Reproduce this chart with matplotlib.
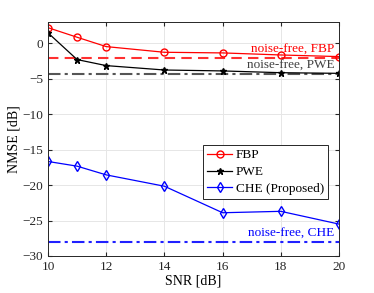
import matplotlib
matplotlib.use("Agg")
import matplotlib.pyplot as plt

plt.rcParams["font.family"] = ["Liberation Serif", "DejaVu Serif"]

snr = [10, 11, 12, 14, 16, 18, 20]
fbp = [2.2, 0.85, -0.47, -1.27, -1.36, -1.65, -1.88]
pwe = [1.47, -2.3, -3.15, -3.77, -3.9, -4.15, -4.24]
che = [-16.67, -17.33, -18.56, -20.16, -23.9, -23.7, -25.5]

nf_fbp = -2.07
nf_pwe = -4.3
nf_che = -28.0

fig = plt.figure(figsize=(3.74, 2.93), dpi=100)
ax = fig.add_axes([48 / 374, 37 / 293, 291 / 374, 234 / 293])

ax.axhline(nf_fbp, color="#ff3030", linestyle=(0, (5, 3)), linewidth=1.5)
ax.axhline(nf_pwe, color="#555555", linestyle=(0, (6, 2, 1.5, 2)), linewidth=1.5)
ax.axhline(nf_che, color="#2020ff", linestyle=(0, (6, 2, 1.5, 2)), linewidth=1.5)

ax.plot(snr, fbp, color="red", marker="o", markersize=5, markerfacecolor="none",
        linewidth=0.9, label="FBP")
ax.plot(snr, pwe, color="black", marker="*", markersize=4.5,
        linewidth=0.9, label="PWE")
ax.plot(snr, che, color="blue", marker="d", markersize=5, markerfacecolor="none",
        linewidth=0.9, label="CHE (Proposed)")

ax.text(19.85, nf_fbp + 0.3, "noise-free, FBP", color="red", fontsize=9.5,
        ha="right", va="bottom")
ax.text(19.85, nf_pwe + 0.25, "noise-free, PWE", color="#404040", fontsize=9.5,
        ha="right", va="bottom")
ax.text(19.85, nf_che + 0.35, "noise-free, CHE", color="blue", fontsize=9.5,
        ha="right", va="bottom")

ax.set_xlim(10, 20)
ax.set_ylim(-30, 3)
ax.set_xticks([10, 12, 14, 16, 18, 20])
ax.set_yticks([-30, -25, -20, -15, -10, -5, 0])
ax.tick_params(direction="in", top=True, right=True, labelsize=9.5, length=3,
               colors="#262626")
ax.grid(True, color="#e6e6e6", linewidth=0.7)
ax.set_axisbelow(True)
for s in ax.spines.values():
    s.set_color("#262626")
    s.set_linewidth(0.7)

ax.set_xlabel("SNR [dB]", fontsize=10, labelpad=1)
ax.set_ylabel("NMSE [dB]", fontsize=10, labelpad=1)

leg = ax.legend(loc="upper right", bbox_to_anchor=(0.963, 0.474), fontsize=9.5,
                fancybox=False, edgecolor="#262626", framealpha=1,
                handlelength=1.9, borderpad=0.3, labelspacing=0.35,
                handletextpad=0.3, borderaxespad=0)
leg.get_frame().set_linewidth(0.7)

fig.savefig("out.png", dpi=100)
